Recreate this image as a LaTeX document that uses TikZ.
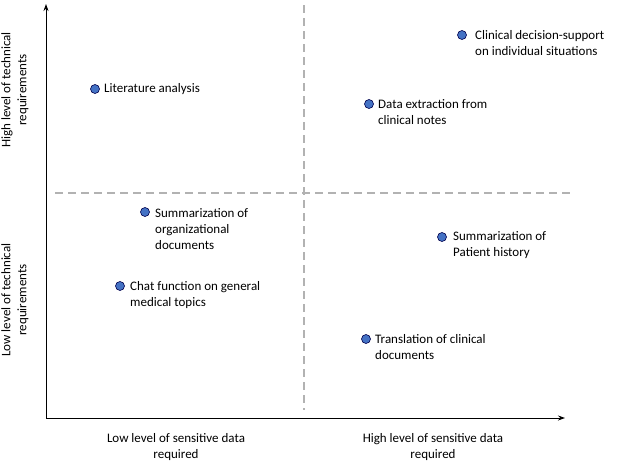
\documentclass[tikz,border=0pt]{standalone}
\usepackage{fontspec}
\setmainfont{Carlito}
\usetikzlibrary{arrows.meta}
\begin{document}
\begin{tikzpicture}[x=1pt,y=-1pt,
  dot/.style={circle,draw=black!70!blue,fill={rgb,255:red,68;green,114;blue,196},line width=0.6pt,minimum size=9pt,inner sep=0pt},
  lbl/.style={anchor=west,align=left,font=\fontsize{13}{16}\selectfont,inner sep=0pt},
  axlbl/.style={align=center,font=\fontsize{13}{16}\selectfont},
  dashline/.style={draw=black!30,line width=1.6pt,dash pattern=on 8pt off 5pt}]
\useasboundingbox (0,0) rectangle (630,466);
\coordinate (o) at (46,418);
\coordinate (ytop) at (46,4);
\coordinate (xend) at (565,418);
\draw[line width=0.9pt,-{Stealth[length=7pt,width=5pt]}] (o) -- (ytop);
\draw[line width=0.9pt,-{Stealth[length=7pt,width=5pt]}] (o) -- (xend);
\coordinate (v1) at (304,5); \coordinate (v2) at (304,410);
\coordinate (h1) at (55,193); \coordinate (h2) at (572,193);
\draw[dashline] (v1) -- (v2);
\draw[dashline] (h1) -- (h2);
\node[dot] (p1) at (95,89) {}; \node[lbl] at (104,89) {Literature analysis};
\node[dot] (p2) at (462,35) {}; \node[lbl] at (475,43) {Clinical decision-support\\on individual situations};
\node[dot] (p3) at (369,104) {}; \node[lbl] at (378,112) {Data extraction from\\clinical notes};
\node[dot] (p4) at (145,212) {}; \node[lbl] at (155,229) {Summarization of\\organizational\\documents};
\node[dot] (p5) at (442,237) {}; \node[lbl] at (453,245) {Summarization of\\Patient history};
\node[dot] (p6) at (120,286) {}; \node[lbl] at (130,295) {Chat function on general\\medical topics};
\node[dot] (p7) at (366,339) {}; \node[lbl] at (375,347) {Translation of clinical\\documents};
\node[axlbl,rotate=90] (yl1) at (15,90) {High level of technical\\requirements};
\node[axlbl,rotate=90] (yl2) at (15,300) {Low level of technical\\requirements};
\node[axlbl] (xl1) at (176,447) {Low level of sensitive data\\required};
\node[axlbl] (xl2) at (433,447) {High level of sensitive data\\required};
\end{tikzpicture}
\end{document}
